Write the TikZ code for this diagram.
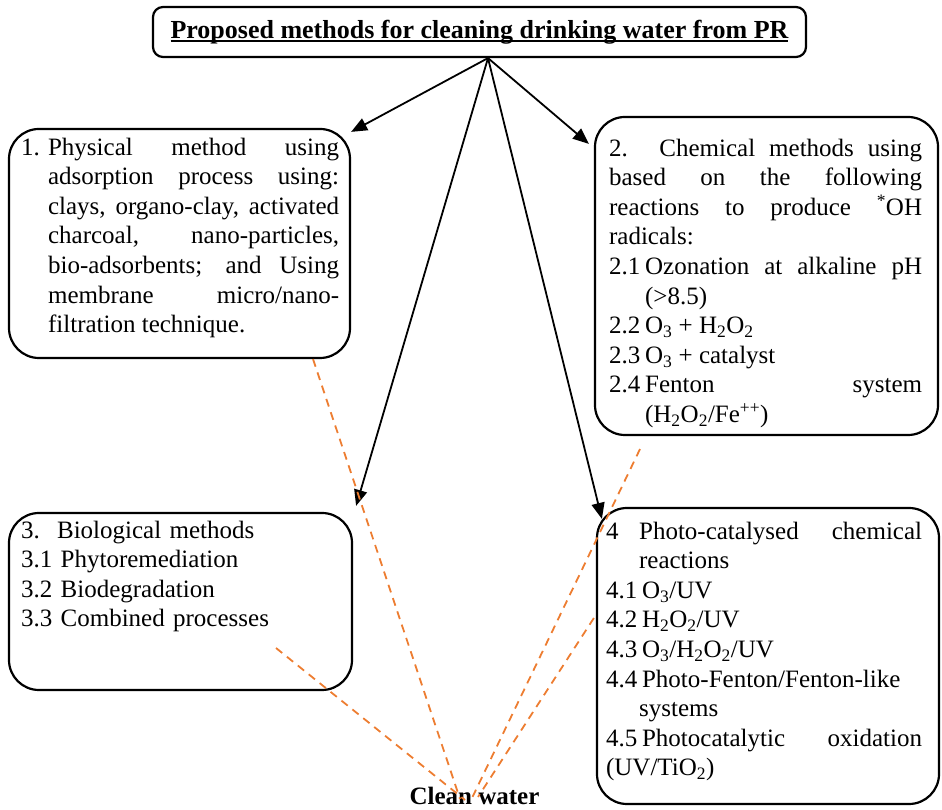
\documentclass[tikz,border=0pt]{standalone}
\usepackage{fontspec}
\setmainfont{Liberation Serif}
\usetikzlibrary{arrows.meta, positioning}
\definecolor{cleanorange}{RGB}{237,125,49}
\setlength{\parindent}{0pt}
\newcommand{\headline}[1]{\setbox0\hbox{#1}\rlap{\rule[-3.5pt]{\wd0}{1.6pt}}\box0}
\tolerance=10000
\hyphenpenalty=10000
\exhyphenpenalty=10000

\begin{document}
\begin{tikzpicture}[
    x = 1pt, y = 1pt,
    box/.style = {draw, line width=2.2pt, rounded corners=30pt, inner sep=0pt},
    boxtext/.style = {anchor=north west, inner sep=0pt, align=justify,
      font=\fontsize{25}{29.6}\selectfont},
    arr/.style = {line width=1.8pt, -{Triangle[length=16pt, width=13pt]}},
    flow/.style = {draw=cleanorange, line width=1.8pt, dash pattern=on 8pt off 6pt}
  ]
  \useasboundingbox (0,0) rectangle (942,810);

  % Heading
  \node[draw, line width=2.2pt, rounded corners=10pt, minimum width=653pt,
    minimum height=50pt, font=\fontsize{26}{30}\selectfont\bfseries]
    (title) at (479.5,778)
    {\headline{Proposed methods for cleaning drinking water from PR}};

  % Boxes
  \node[box, minimum width=341pt, minimum height=229pt] (phys) at (179.5,566.5) {};
  \node[box, minimum width=343pt, minimum height=318pt] (chem) at (766.5,534) {};
  \node[box, minimum width=343pt, minimum height=177pt] (bio) at (180.5,208.5) {};
  \node[box, minimum width=342pt, minimum height=296pt] (photo) at (768,154) {};

  % Texts
  \node[boxtext, text width=318pt] (physt) at ([xshift=13pt, yshift=-6.3pt]phys.north west)
    {\hangindent=27pt\hangafter=1
     \strut\makebox[27pt][l]{1.}Physical method using\linebreak
     adsorption process using:\linebreak
     clays, organo-clay, activated\linebreak
     charcoal, nano-particles,\linebreak
     bio-adsorbents; and Using\linebreak
     membrane micro/nano-\linebreak
     filtration technique.\par};
  \node[boxtext, text width=313pt] (chemt) at ([xshift=15pt, yshift=-19.3pt]chem.north west)
    {\strut 2. Chemical methods using\linebreak
     based on the following\linebreak
     reactions to produce \textsuperscript{*}OH\linebreak
     radicals:\par
     \hangindent=36pt\hangafter=1
     \makebox[36pt][l]{2.1}Ozonation at alkaline pH\linebreak
     (>8.5)\par
     \makebox[36pt][l]{2.2}O\textsubscript{3} + H\textsubscript{2}O\textsubscript{2}\par
     \makebox[36pt][l]{2.3}O\textsubscript{3} + catalyst\par
     \hangindent=36pt\hangafter=1
     \makebox[36pt][l]{2.4}Fenton system\linebreak
     (H\textsubscript{2}O\textsubscript{2}/Fe\textsuperscript{++})\par};
  \node[boxtext, align=left, text width=320pt] (biot) at ([xshift=13pt, yshift=-5.3pt]bio.north west)
    {\strut\makebox[36pt][l]{3.}Biological methods\\
     3.1 Phytoremediation\\
     3.2 Biodegradation\\
     3.3 Combined processes};
  \node[boxtext, text width=316pt] (photot) at ([xshift=10pt, yshift=-11.3pt]photo.north west)
    {\hangindent=33pt\hangafter=1
     \strut\makebox[33pt][l]{4}Photo-catalysed chemical\linebreak
     reactions\par
     \makebox[36pt][l]{4.1}O\textsubscript{3}/UV\par
     \makebox[36pt][l]{4.2}H\textsubscript{2}O\textsubscript{2}/UV\par
     \makebox[36pt][l]{4.3}O\textsubscript{3}/H\textsubscript{2}O\textsubscript{2}/UV\par
     \hangindent=33pt\hangafter=1
     \makebox[36pt][l]{4.4}Photo-Fenton/Fenton-like\hfil\break
     systems\par
     \makebox[36pt][l]{4.5}Photocatalytic oxidation\linebreak
     (UV/TiO\textsubscript{2})\par};

  \node[inner sep=0pt, anchor=base, font=\fontsize{25}{30}\selectfont\bfseries]
    (clean) at (474.5,5) {Clean water};

  % Arrows
  \coordinate (src) at ([xshift=8.5pt]title.south);
  \draw[arr] (src) -- ([yshift=-4pt]phys.north east);
  \draw[arr] (src) -- ([xshift=-5pt, yshift=-28pt]chem.north west);
  \draw[arr] (src) -- ([xshift=3pt, yshift=6pt]bio.north east);
  \draw[arr] (src) -- ([xshift=6pt, yshift=-12pt]photo.north west);

  % Dashed lines to clean water
  \coordinate (d1) at ([xshift=133.5pt]phys.south);
  \coordinate (d2) at (276,162);
  \coordinate (d3) at ([xshift=-126.5pt, yshift=-13pt]chem.south);
  \coordinate (d4) at ([xshift=-2pt, yshift=38pt]photo.west);
  \draw[flow] (d1) -- ([xshift=-14.5pt, yshift=6pt]clean.base);
  \draw[flow] (d2) -- ([xshift=-9.5pt, yshift=5pt]clean.base);
  \draw[flow] (d3) -- ([xshift=-2.5pt, yshift=7pt]clean.base);
  \draw[flow] (d4) -- ([xshift=3.5pt, yshift=8pt]clean.base);
\end{tikzpicture}
\end{document}
